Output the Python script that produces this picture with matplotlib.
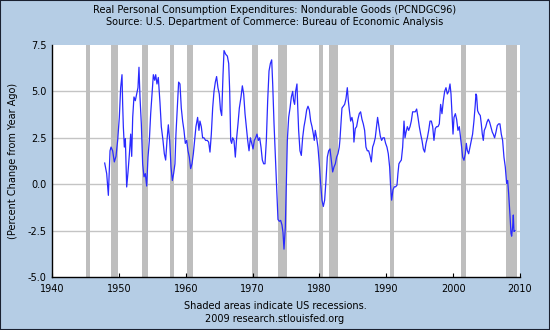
import matplotlib
matplotlib.use("Agg")
import matplotlib.pyplot as plt
from matplotlib.patches import Rectangle

plt.rcParams['font.family'] = ['DejaVu Sans']

# ---- data (decimal year, % change from year ago) ----
dates = [
    1947.88, 1948.18, 1948.43, 1948.68, 1948.83, 1949.07, 1949.32, 1949.57, 1949.82,
    1950.07, 1950.27, 1950.47, 1950.57, 1950.67, 1950.82, 1950.97, 1951.17, 1951.37,
    1951.57, 1951.77, 1951.92, 1952.07, 1952.26, 1952.46, 1952.66, 1952.86, 1953.01,
    1953.16, 1953.36, 1953.56, 1953.76, 1953.96, 1954.16, 1954.36, 1954.56, 1954.76,
    1954.96, 1955.16, 1955.36, 1955.51, 1955.70, 1955.90, 1956.15, 1956.35, 1956.6,
    1956.8, 1957.0, 1957.2, 1957.4, 1957.6, 1957.8, 1958.0, 1958.19, 1958.39, 1958.54,
    1958.74, 1958.94, 1959.14, 1959.34, 1959.54, 1959.74, 1959.94, 1960.14, 1960.34,
    1960.54, 1960.74, 1960.94, 1961.14, 1961.33, 1961.53, 1961.78, 1961.98, 1962.13,
    1962.33, 1962.53, 1962.73, 1962.98, 1963.23, 1963.43, 1963.63, 1963.83, 1964.03,
    1964.23, 1964.43, 1964.62, 1964.82, 1965.02, 1965.2, 1965.38, 1965.58, 1965.73,
    1965.98, 1966.23, 1966.43, 1966.58, 1966.73, 1966.87, 1967.02, 1967.22, 1967.42,
    1967.62, 1967.82, 1968.02, 1968.27, 1968.47, 1968.67, 1968.87, 1969.07, 1969.27,
    1969.47, 1969.67, 1969.87, 1970.07, 1970.26, 1970.46, 1970.66, 1970.86, 1971.06,
    1971.26, 1971.46, 1971.66, 1971.86, 1972.06, 1972.26, 1972.46, 1972.66, 1972.86,
    1973.01, 1973.21, 1973.41, 1973.6, 1973.8, 1974.0, 1974.2, 1974.4, 1974.55, 1974.7,
    1974.9, 1975.05, 1975.2, 1975.4, 1975.6, 1975.8, 1976.0, 1976.14, 1976.29, 1976.44,
    1976.64, 1976.74, 1976.89, 1977.09, 1977.29, 1977.49, 1977.69, 1977.89, 1978.09,
    1978.29, 1978.49, 1978.69, 1978.89, 1979.09, 1979.23, 1979.38, 1979.58, 1979.78,
    1979.98, 1980.18, 1980.38, 1980.58, 1980.78, 1980.98, 1981.18, 1981.38, 1981.58,
    1981.78, 1981.98, 1982.18, 1982.38, 1982.57, 1982.77, 1982.97, 1983.07, 1983.22,
    1983.37, 1983.57, 1983.77, 1983.97, 1984.17, 1984.32, 1984.47, 1984.67, 1984.86,
    1985.06, 1985.16, 1985.36, 1985.56, 1985.76, 1985.96, 1986.16, 1986.36, 1986.56,
    1986.76, 1986.96, 1987.16, 1987.36, 1987.56, 1987.76, 1987.96, 1988.15, 1988.35,
    1988.55, 1988.7, 1988.9, 1989.1, 1989.3, 1989.5, 1989.7, 1989.9, 1990.1, 1990.3,
    1990.5, 1990.65, 1990.8, 1991.0, 1991.2, 1991.4, 1991.6, 1991.74, 1991.89, 1992.05,
    1992.25, 1992.45, 1992.65, 1992.8, 1992.95, 1993.15, 1993.35, 1993.55, 1993.74,
    1993.94, 1994.14, 1994.34, 1994.54, 1994.74, 1994.94, 1995.14, 1995.34, 1995.54,
    1995.74, 1995.94, 1996.14, 1996.34, 1996.54, 1996.74, 1996.94, 1997.13, 1997.33,
    1997.53, 1997.73, 1997.93, 1998.13, 1998.33, 1998.53, 1998.73, 1998.93, 1999.13,
    1999.33, 1999.53, 1999.68, 1999.83, 1999.98, 2000.13, 2000.33, 2000.52, 2000.72,
    2000.92, 2001.12, 2001.27, 2001.42, 2001.62, 2001.82, 2001.97, 2002.12, 2002.32,
    2002.52, 2002.71, 2002.91, 2003.11, 2003.31, 2003.41, 2003.51, 2003.66, 2003.86,
    2004.06, 2004.21, 2004.36, 2004.51, 2004.66, 2004.86, 2005.06, 2005.26, 2005.46,
    2005.66, 2005.86, 2006.0, 2006.2, 2006.4, 2006.6, 2006.8, 2007.0, 2007.2, 2007.4,
    2007.6, 2007.8, 2008.0, 2008.15, 2008.3, 2008.5, 2008.65, 2008.75, 2008.9, 2009.0,
    2009.1, 2009.25,
]
pct_change = [
    1.14, 0.57, -0.6, 1.8, 2.0, 1.8, 1.2, 1.5, 2.36,
    3.6, 5.2, 5.9, 4.3, 3.1, 2.0, 2.45, -0.15, 0.66,
    1.6, 2.7, 1.5, 3.6, 4.7, 4.5, 4.86, 5.2, 6.3,
    4.7, 3.25, 1.1, 0.4, 0.57, -0.1, 1.46, 2.36, 3.8,
    4.86, 5.9, 5.6, 5.9, 5.4, 5.75, 4.4, 3.1, 2.36,
    1.64, 1.3, 2.36, 3.2, 2.36, 0.93, 0.2, 0.57, 1.1, 2.7,
    4.1, 5.5, 5.4, 4.1, 3.4, 2.9, 2.2, 2.36, 1.8,
    1.46, 0.84, 1.1, 1.64, 2.36, 3.1, 3.6, 2.9, 3.4,
    3.1, 2.5, 2.5, 2.36, 2.36, 2.27, 1.73, 2.7, 4.1,
    5.0, 5.5, 5.8, 5.2, 4.86, 4.0, 3.7, 5.9, 7.2,
    7.0, 6.9, 6.5, 5.0, 2.36, 2.2, 2.5, 2.36, 1.46,
    2.5, 3.25, 4.1, 4.7, 5.3, 4.86, 3.8, 3.1, 2.36,
    1.8, 2.5, 2.2, 1.9, 2.36, 2.5, 2.7, 2.36, 2.5,
    2.0, 1.3, 1.1, 1.1, 2.36, 4.5, 6.1, 6.5, 6.7,
    5.4, 3.25, 1.46, -0.3, -1.9, -2.0, -1.95, -2.2, -2.6, -3.5,
    -2.3, 0.04, 2.36, 3.6, 4.1, 4.7, 5.0, 4.5, 4.3, 5.0,
    5.4, 4.3, 2.9, 1.8, 1.55, 2.5, 3.1, 3.5, 4.0,
    4.2, 4.0, 3.4, 3.1, 2.7, 2.36, 2.9, 2.5, 2.0,
    1.1, 0.04, -0.86, -1.2, -0.86, 0.2, 1.46, 1.8, 1.9,
    1.3, 0.66, 0.93, 1.1, 1.46, 1.64, 2.0, 2.4, 3.25,
    4.1, 4.2, 4.3, 4.6, 5.2, 4.5, 4.0, 3.4, 3.6,
    3.25, 2.27, 3.0, 3.1, 3.5, 3.8, 3.9, 3.5, 3.25,
    2.9, 2.0, 1.8, 1.8, 1.55, 1.2, 2.0, 2.2, 2.5,
    3.1, 3.6, 3.1, 2.6, 2.36, 2.5, 2.5, 2.2, 2.0, 1.64,
    0.93, -0.14, -0.86, -0.3, -0.14, -0.14, -0.05, 0.57, 1.1, 1.2,
    1.3, 2.0, 3.4, 2.5, 2.8, 3.1, 2.9, 3.1, 3.4,
    3.9, 3.9, 3.9, 4.05, 3.6, 3.1, 2.7, 2.36, 1.9,
    1.73, 2.2, 2.5, 2.9, 3.4, 3.4, 3.1, 2.36, 3.0,
    3.1, 3.1, 3.25, 4.3, 3.8, 4.5, 5.0, 5.2, 4.86,
    5.0, 5.4, 4.86, 3.8, 2.7, 3.6, 3.8, 3.5, 2.9,
    3.1, 2.5, 2.0, 1.46, 1.29, 1.64, 2.2, 1.82, 1.64,
    2.0, 2.36, 2.7, 3.4, 4.3, 4.86, 4.77, 3.96, 3.8,
    3.7, 3.25, 2.7, 2.36, 2.9, 3.07, 3.34, 3.5, 3.34,
    3.07, 2.8, 2.7, 2.5, 2.8, 3.16, 3.25, 3.25, 2.7, 2.36,
    1.46, 0.93, 0.04, 0.2, -0.5, -1.66, -2.64, -2.8, -2.3, -1.66,
    -2.55, -2.5,
]

# NBER recessions (start, end) in decimal years
rec_start = [1945.1, 1948.83, 1953.5, 1957.6, 1960.25, 1969.92, 1973.83, 1980.0, 1981.5, 1990.5, 2001.17, 2007.92]
rec_end   = [1945.75, 1949.8, 1954.38, 1958.3, 1961.1, 1970.85, 1975.2, 1980.5, 1982.85, 1991.2, 2001.85, 2009.6]

x_ticks = [1940, 1950, 1960, 1970, 1980, 1990, 2000, 2010]
y_ticks = [-5.0, -2.5, 0.0, 2.5, 5.0, 7.5]

title1 = "Real Personal Consumption Expenditures: Nondurable Goods (PCNDGC96)"
title2 = "Source: U.S. Department of Commerce: Bureau of Economic Analysis"
foot1 = "Shaded areas indicate US recessions."
foot2 = "2009 research.stlouisfed.org"
ylabel = "(Percent Change from Year Ago)"

# ---- figure ----
bg = '#B5CDE5'
fig = plt.figure(figsize=(5.5, 3.3), dpi=100, facecolor=bg)
ax = fig.add_axes([52/550, 1-277/330, (520-52)/550, (277-45)/330])
ax.set_facecolor('white')

for s, e in zip(rec_start, rec_end):
    ax.axvspan(s, e, color='#BEBEBE', lw=0, zorder=1)

for yv in y_ticks[1:-1]:
    ax.axhline(yv, color='#C4C4C4', lw=1.0, zorder=0.5)

ax.plot(dates, pct_change, color='#2a2aff', lw=0.9, zorder=3)

ax.set_xlim(1940, 2010)
ax.set_ylim(-5.0, 7.5)
ax.set_xticks(x_ticks)
ax.set_xticklabels([str(t) for t in x_ticks])
ax.set_yticks(y_ticks)
ax.set_yticklabels([f"{t:.1f}" for t in y_ticks])
ax.tick_params(axis='x', direction='in', length=3, width=0.8, labelsize=7,
               colors='black', pad=5)
ax.tick_params(axis='y', direction='in', length=0, labelsize=7, colors='black', pad=4)

for side in ['top', 'right']:
    ax.spines[side].set_visible(False)
for side in ['left', 'bottom']:
    ax.spines[side].set_color('black')
    ax.spines[side].set_linewidth(1.0)
    ax.spines[side].set_zorder(4)

ax.set_ylabel(ylabel, fontsize=7, labelpad=7)

fig.text(0.5, 1-10/330, title1, ha='center', va='center', fontsize=7)
fig.text(0.5, 1-22/330, title2, ha='center', va='center', fontsize=7)
fig.text(0.5, 1-306/330, foot1, ha='center', va='center', fontsize=7)
fig.text(0.5, 1-319/330, foot2, ha='center', va='center', fontsize=7)

fig.patches.append(Rectangle((0, 0), 1, 1, transform=fig.transFigure, fill=False,
                             edgecolor='#1a2030', lw=1.5))

fig.savefig('out.png', dpi=100, facecolor=bg)
